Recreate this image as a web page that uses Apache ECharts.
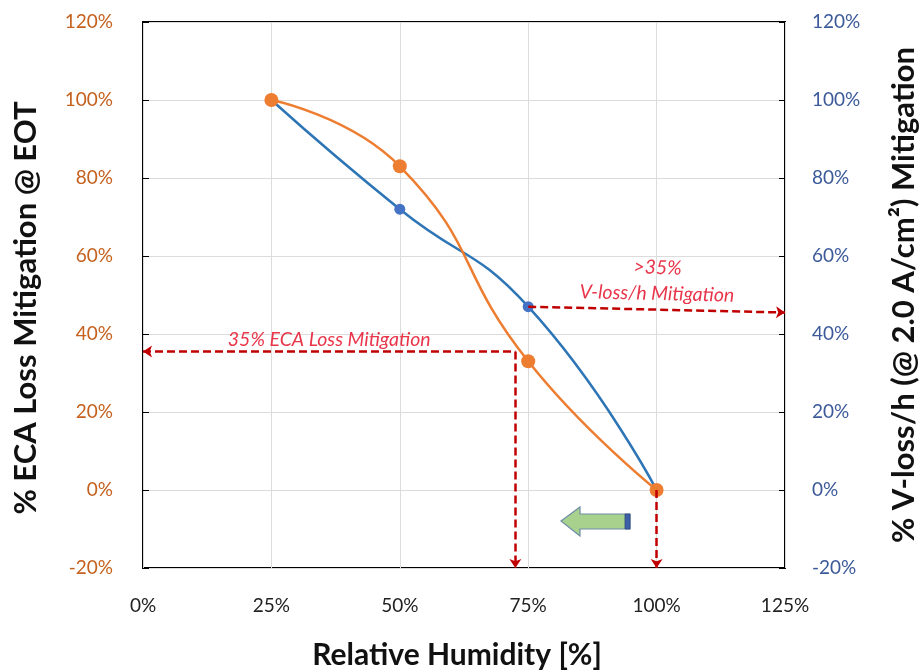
<!DOCTYPE html>
<html>
<head>
<meta charset="utf-8">
<script src="https://cdn.jsdelivr.net/npm/echarts@6/dist/echarts.min.js"></script>
<style>html,body{margin:0;padding:0;background:#fff;overflow:hidden}#c{width:919px;height:672px}</style>
</head>
<body>
<div id="c"></div>
<script>
const humidity = [25, 50, 75, 100];
const ecaLoss = [100, 83, 33, 0];
const vLoss = [100, 72, 47, 0];
const xTicks = {min: 0, max: 125, interval: 25};
const yTicks = {min: -20, max: 120, interval: 20};
const ecaMark = {x: 72.5, y: 35.5};
const vMark = {x0: 75, y0: 47, x1: 125, y1: 45.5};

const FONT = 'Lato, "Open Sans", sans-serif';
const chart = echarts.init(document.getElementById('c'));
const dash = {color: '#C00000', type: [8, 4], width: 2.5};
const redText = {color: '#E8354A', fontStyle: 'italic', fontSize: 19.5, fontFamily: FONT};

chart.setOption({
  animation: false,
  grid: {left: 143, right: 134, top: 22, bottom: 104, show: true, borderColor: '#000', borderWidth: 2, outerBoundsMode: 'none'},
  xAxis: {
    type: 'value', min: xTicks.min, max: xTicks.max, interval: xTicks.interval,
    axisLine: {show: false}, axisTick: {show: false},
    axisLabel: {formatter: '{value}%', color: '#222', fontSize: 19, fontFamily: FONT, margin: 28},
    splitLine: {show: true, lineStyle: {color: '#dcdcdc', width: 1}},
    name: 'Relative Humidity [%]', nameLocation: 'middle', nameGap: 72,
    nameTextStyle: {color: '#111', fontSize: 30, fontWeight: 'bold', fontFamily: FONT, padding: [0, 14, 0, 0]}
  },
  yAxis: [{
    type: 'value', min: yTicks.min, max: yTicks.max, interval: yTicks.interval, position: 'left',
    axisLine: {show: false}, axisTick: {show: true, inside: true, length: 6, lineStyle: {color: '#000'}},
    axisLabel: {formatter: '{value}%', color: '#C5611E', fontSize: 19, fontFamily: FONT, margin: 30},
    splitLine: {show: true, lineStyle: {color: '#dcdcdc', width: 1}},
    name: '% ECA Loss Mitigation @ EOT', nameLocation: 'middle', nameGap: 102, nameRotate: 90,
    nameTextStyle: {color: '#111', fontSize: 31, fontWeight: 'bold', fontFamily: FONT, padding: [0, 26, 0, 0]}
  }, {
    type: 'value', min: yTicks.min, max: yTicks.max, interval: yTicks.interval, position: 'right',
    axisLine: {show: false}, axisTick: {show: true, inside: true, length: 6, lineStyle: {color: '#000'}},
    axisLabel: {formatter: '{value}%', color: '#3C5A9A', fontSize: 19, fontFamily: FONT, margin: 27},
    splitLine: {show: false},
    name: '% V-loss/h (@ 2.0 A/cm²) Mitigation', nameLocation: 'middle', nameGap: 103, nameRotate: 90,
    nameTextStyle: {color: '#111', fontSize: 31, fontWeight: 'bold', fontFamily: FONT}
  }],
  series: [{
    name: 'V-loss/h', type: 'line', yAxisIndex: 1, smooth: 0.5,
    data: humidity.map((h, i) => [h, vLoss[i]]),
    lineStyle: {color: '#2E75B6', width: 2.5},
    symbol: 'circle', symbolSize: 11, itemStyle: {color: '#4472C4'},
    markLine: {
      silent: true, symbol: ['none', 'arrow'], symbolSize: 9,
      lineStyle: dash,
      label: {show: true, position: 'middle', formatter: '>35%\nV-loss/h Mitigation', ...redText, lineHeight: 26, distance: 3},
      data: [[{coord: [vMark.x0, vMark.y0]}, {coord: [vMark.x1, vMark.y1]}]]
    }
  }, {
    name: 'ECA Loss', type: 'line', yAxisIndex: 0, smooth: 0.5,
    data: humidity.map((h, i) => [h, ecaLoss[i]]),
    lineStyle: {color: '#ED7D31', width: 2.5},
    symbol: 'circle', symbolSize: 14, itemStyle: {color: '#ED7D31'},
    markLine: {
      silent: true, symbolSize: 9,
      lineStyle: dash,
      label: {show: false},
      data: [
        [{coord: [0, ecaMark.y], symbol: 'arrow', label: {show: true, position: 'middle', formatter: '35% ECA Loss Mitigation', ...redText, distance: 2}},
         {coord: [ecaMark.x, ecaMark.y], symbol: 'none'}],
        [{coord: [ecaMark.x, ecaMark.y], symbol: 'none'}, {coord: [ecaMark.x, yTicks.min], symbol: 'arrow'}],
        [{coord: [100, 0], symbol: 'none'}, {coord: [100, yTicks.min], symbol: 'arrow'}]
      ]
    }
  }],
  graphic: [{
    type: 'polygon', z: 100,
    shape: {points: [[561, 521], [580, 507], [580, 514], [630, 514], [630, 529], [580, 529], [580, 536]]},
    style: {fill: '#A9D18E', stroke: '#6E8DA6', lineWidth: 1.2}
  }, {
    type: 'rect', z: 101, shape: {x: 625, y: 514, width: 5, height: 15},
    style: {fill: '#3D5FA8', stroke: '#2F4A80', lineWidth: 0.8}
  }]
});
</script>
</body>
</html>
